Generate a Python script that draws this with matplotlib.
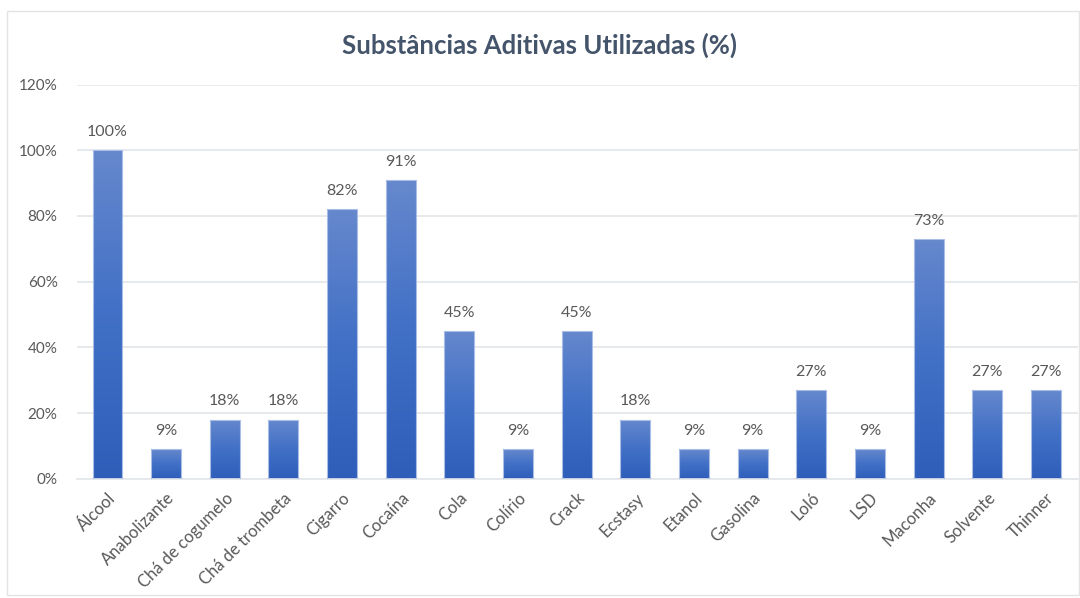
import numpy as np
import matplotlib
matplotlib.use('Agg')
import matplotlib.pyplot as plt
from matplotlib.colors import LinearSegmentedColormap
from matplotlib.patches import Rectangle

plt.rcParams['font.family'] = ['Lato', 'DejaVu Sans']

# ---------------------------------------------------------------------------
# Data
# ---------------------------------------------------------------------------
substances = ['Álcool', 'Anabolizante', 'Chá de cogumelo', 'Chá de trombeta',
              'Cigarro', 'Cocaína', 'Cola', 'Colírio', 'Crack', 'Ecstasy',
              'Etanol', 'Gasolina', 'Loló', 'LSD', 'Maconha', 'Solvente',
              'Thinner']
percent = [100, 9, 18, 18, 82, 91, 45, 9, 45, 18, 9, 9, 27, 9, 73, 27, 27]
y_ticks = [0, 20, 40, 60, 80, 100, 120]

TEXT = '#595959'
GRID = '#e3e6ea'
grad = LinearSegmentedColormap.from_list(
    'bar', ['#2f5eba', '#4170c6', '#6688cd'])

fig = plt.figure(figsize=(10.8, 5.98), dpi=100)
ax = fig.add_axes([0.0713, 0.1995, 0.927, 0.659])

x = np.arange(len(substances))
bars = ax.bar(x, percent, width=0.51, color='none',
              edgecolor='#a9bde6', linewidth=0.8, zorder=3)

# vertical gradient in each bar (light at top, dark at bottom)
g = np.linspace(0, 1, 256).reshape(-1, 1)
for b in bars:
    x0, w, h = b.get_x(), b.get_width(), b.get_height()
    im = ax.imshow(g, cmap=grad, origin='lower', aspect='auto',
                   extent=[x0, x0 + w, 0, h], zorder=2)
    im.set_clip_path(b)

for xi, v in zip(x, percent):
    ax.annotate(f'{v}%', (xi, v), xytext=(0, 8), textcoords='offset points',
                ha='center', va='bottom', fontsize=11.5, color=TEXT)

ax.set_xlim(-0.52, len(substances) - 0.45)
ax.set_ylim(0, 120)
ax.set_yticks(y_ticks)
ax.set_yticklabels([f'{t}%' for t in y_ticks])
ax.set_xticks(x)
ax.set_xticklabels(substances, rotation=45, ha='right',
                   rotation_mode='anchor')
ax.tick_params(axis='both', length=0, labelsize=11, labelcolor=TEXT)
ax.tick_params(axis='x', labelsize=12, pad=8)
ax.tick_params(axis='y', pad=14)
ax.grid(True, axis='y', color=GRID, linewidth=1.2, zorder=0)
ax.set_axisbelow(True)
for s in ['top', 'right', 'left']:
    ax.spines[s].set_visible(False)
ax.spines['bottom'].set_color(GRID)
ax.spines['bottom'].set_linewidth(1.2)

fig.text(0.5, 0.925, 'Substâncias Aditivas Utilizadas (%)', ha='center',
         va='center', fontsize=18.5, fontweight='bold', color='#44546a')

fig.patches.append(Rectangle((7 / 1080, 3 / 598), 1072 / 1080, 584 / 598,
                             transform=fig.transFigure, fill=False,
                             edgecolor='#e4e4e4', linewidth=1))

plt.savefig('out.png', dpi=100)
plt.close()
